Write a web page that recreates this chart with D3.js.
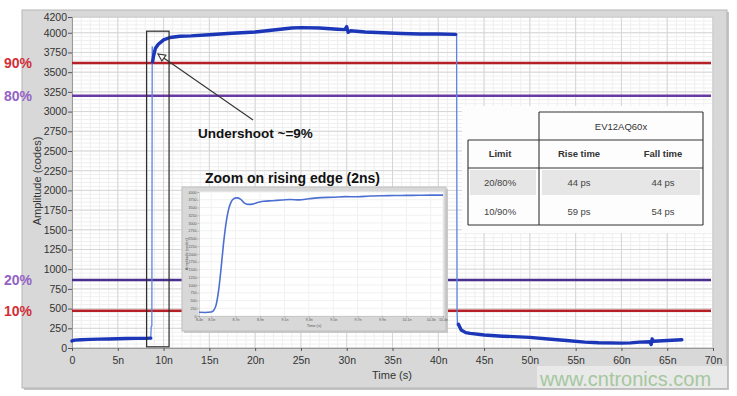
<!DOCTYPE html>
<html>
<head>
<meta charset="utf-8">
<script src="https://cdn.jsdelivr.net/npm/d3@7"></script>
<style>
  body { margin: 0; background: #fff; }
  svg { display: block; }
  text { font-family: "Liberation Sans", Arial, sans-serif; }
</style>
</head>
<body>
<svg id="chart" width="737" height="396"></svg>
<script>
// ---------- data ----------
// Main acquisition: time in ns, amplitude in ADC codes
const traceTime = [0, 0.3, 1, 2, 3, 4, 5, 6, 7, 8, 8.6, 8.65, 8.72, 8.76, 8.8, 8.9, 9.1, 9.4, 10, 10.7, 11.8, 13, 15, 17, 20, 22, 24, 25, 27, 29, 29.8, 30, 30.15, 30.4, 32, 34, 36, 38, 40, 41.9, 42.0, 42.05, 42.1, 42.2, 42.5, 43, 43.5, 45, 47, 50, 52, 54, 56, 57.5, 60, 61, 62, 63.1, 63.25, 63.35, 63.5, 65, 66.6];
const traceCode = [90, 100, 105, 110, 112, 115, 118, 120, 122, 122, 125, 270, 280, 3830, 3630, 3700, 3800, 3850, 3910, 3940, 3955, 3960, 3975, 3990, 4010, 4035, 4060, 4065, 4060, 4045, 4040, 4078, 4005, 4025, 4010, 4000, 3990, 3985, 3985, 3980, 3980, 480, 290, 300, 228, 195, 185, 165, 150, 135, 115, 95, 75, 67, 62, 65, 75, 80, 45, 115, 85, 95, 105];
// Fast transitions (only the thin trace is visible there)
const edgeSpans = [[8.62, 8.79], [41.95, 42.19]];

const timeTicks = [0, 5, 10, 15, 20, 25, 30, 35, 40, 45, 50, 55, 60, 65, 70];
const timeTickLabels = ["0", "5n", "10n", "15n", "20n", "25n", "30n", "35n", "40n", "45n", "50n", "55n", "60n", "65n", "70n"];
const ampTicks = [0, 250, 500, 750, 1000, 1250, 1500, 1750, 2000, 2250, 2500, 2750, 3000, 3250, 3500, 3750, 4000, 4200];

// Threshold levels (codes)
const thresholdLabels = ["90%", "80%", "20%", "10%"];
const thresholdValues = [3617, 3200, 863, 473];

// Zoomed window around the rising edge
const zoomWindowTime = [8.15, 10.6];
const zoomWindowCode = [15, 4020];
// Undershoot callout: tail and tip (ns, codes)
const calloutTail = [19.77, 2893];
const calloutTip = [9.39, 3731];

// Inset: rising edge over 2 ns
const insetTime = [8.40, 8.45, 8.50, 8.52, 8.54, 8.56, 8.58, 8.60, 8.62, 8.64, 8.66, 8.68, 8.71, 8.74, 8.77, 8.80, 8.84, 8.88, 8.93, 9.00, 9.08, 9.15, 9.22, 9.30, 9.40, 9.50, 9.60, 9.70, 9.80, 9.90, 10.0, 10.1, 10.2, 10.3, 10.4];
const insetCode = [120, 115, 130, 180, 350, 800, 1500, 2300, 2950, 3400, 3650, 3770, 3810, 3770, 3650, 3600, 3610, 3660, 3700, 3720, 3740, 3760, 3745, 3780, 3820, 3830, 3850, 3845, 3870, 3880, 3885, 3890, 3895, 3900, 3900];
const insetTimeTicks = [8.4, 8.5, 8.7, 8.9, 9.1, 9.3, 9.5, 9.7, 9.9, 10.1, 10.3, 10.4];
const insetAmpTicks = [0, 250, 500, 750, 1000, 1250, 1500, 1750, 2000, 2250, 2500, 2750, 3000, 3250, 3500, 3750, 4000];

// Rise / fall time table
const tableTitle = "EV12AQ60x";
const tableHeaders = ["Limit", "Rise time", "Fall time"];
const tableLimits = ["20/80%", "10/90%"];
const riseTimes = ["44 ps", "59 ps"];
const fallTimes = ["44 ps", "54 ps"];

// ---------- drawing ----------
const svg = d3.select("#chart");
const plot = { l: 72, r: 713, t: 17, b: 348 };
const x = d3.scaleLinear().domain([0, 70]).range([plot.l, plot.r]);
const y = d3.scaleLinear().domain([0, 4200]).range([plot.b, plot.t]);

// panel
svg.append("rect").attr("x", 24).attr("y", 12).attr("width", 705).attr("height", 378).attr("fill", "#c4c4c4");
svg.append("rect").attr("x", 22).attr("y", 10).attr("width", 705).attr("height", 378)
  .attr("fill", "#d8d8d8").attr("stroke", "#b5b5b5").attr("stroke-width", 1);
// site mark background strip
svg.append("rect").attr("x", 537).attr("y", 366).attr("width", 190).attr("height", 22).attr("fill", "#e9e9e9");
svg.append("rect").attr("x", plot.l).attr("y", plot.t).attr("width", plot.r - plot.l).attr("height", plot.b - plot.t)
  .attr("fill", "#ffffff");

// grid
const grid = svg.append("g");
grid.selectAll(".vx").data(d3.range(0, 70.001, 1)).join("line")
  .attr("x1", d => x(d)).attr("x2", d => x(d)).attr("y1", plot.t).attr("y2", plot.b)
  .attr("stroke", "#efefef").attr("stroke-width", 1);
grid.selectAll(".hy").data(d3.range(0, 4200.001, 50)).join("line")
  .attr("y1", d => y(d)).attr("y2", d => y(d)).attr("x1", plot.l).attr("x2", plot.r)
  .attr("stroke", "#efefef").attr("stroke-width", 1);
grid.append("g").selectAll("line").data(timeTicks).join("line")
  .attr("x1", d => x(d)).attr("x2", d => x(d)).attr("y1", plot.t).attr("y2", plot.b)
  .attr("stroke", "#d6d6d6").attr("stroke-width", 1);
grid.append("g").selectAll("line").data(ampTicks).join("line")
  .attr("y1", d => y(d)).attr("y2", d => y(d)).attr("x1", plot.l).attr("x2", plot.r)
  .attr("stroke", "#d6d6d6").attr("stroke-width", 1);
svg.append("rect").attr("x", plot.l).attr("y", plot.t).attr("width", plot.r - plot.l).attr("height", plot.b - plot.t)
  .attr("fill", "none").attr("stroke", "#c8c8c8");

// axes
const yAxis = svg.append("g").attr("transform", `translate(${plot.l},0)`)
  .call(d3.axisLeft(y).tickValues(ampTicks).tickSize(4).tickPadding(1).tickFormat(d3.format("d")));
const xAxis = svg.append("g").attr("transform", `translate(0,${plot.b})`)
  .call(d3.axisBottom(x).tickValues(timeTicks).tickSize(3).tickPadding(6).tickFormat((d, i) => timeTickLabels[i]));
[yAxis, xAxis].forEach(a => {
  a.select(".domain").attr("stroke", "#9a9a9a");
  a.selectAll(".tick line").attr("stroke", "#555");
  a.selectAll(".tick text").attr("fill", "#333").style("font-size", "10.5px");
});

svg.append("text").attr("transform", "translate(41,181) rotate(-90)").attr("text-anchor", "middle")
  .attr("fill", "#333").style("font-size", "11px").text("Amplitude (codes)");
svg.append("text").attr("x", 392).attr("y", 379).attr("text-anchor", "middle")
  .attr("fill", "#333").style("font-size", "11px").text("Time (s)");

// threshold lines
const thresholdLineColor = ["#b51f26", "#6a3aa4", "#4a2f8e", "#b51f26"];
const thresholdTextColor = ["#d32f38", "#9462c4", "#9462c4", "#d32f38"];
svg.append("g").selectAll("line").data(thresholdValues).join("line")
  .attr("x1", plot.l).attr("x2", plot.r - 2)
  .attr("y1", d => y(d)).attr("y2", d => y(d))
  .attr("stroke", (d, i) => thresholdLineColor[i]).attr("stroke-width", 2.6);
svg.append("g").selectAll("text").data(thresholdValues).join("text")
  .attr("x", 4).attr("y", d => y(d) + 5)
  .attr("fill", (d, i) => thresholdTextColor[i])
  .style("font-size", "14px").style("font-weight", "bold")
  .text((d, i) => thresholdLabels[i]);

// trace
const trace = traceTime.map((t, i) => [t, traceCode[i]]);
const onEdge = t => edgeSpans.some(s => t > s[0] && t < s[1]);
svg.append("path").datum(trace)
  .attr("d", d3.line().x(d => x(d[0])).y(d => y(d[1])))
  .attr("fill", "none").attr("stroke", "#5f82e2").attr("stroke-width", 1.3);
svg.append("path").datum(trace)
  .attr("d", d3.line().defined(d => !onEdge(d[0])).x(d => x(d[0])).y(d => y(d[1])))
  .attr("fill", "none").attr("stroke", "#1c36b8").attr("stroke-width", 3.4)
  .attr("stroke-linejoin", "round").attr("stroke-linecap", "round");

// zoom window rectangle
svg.append("rect")
  .attr("x", x(zoomWindowTime[0])).attr("y", y(zoomWindowCode[1]))
  .attr("width", x(zoomWindowTime[1]) - x(zoomWindowTime[0]))
  .attr("height", y(zoomWindowCode[0]) - y(zoomWindowCode[1]))
  .attr("fill", "none").attr("stroke", "#2a2a2a").attr("stroke-width", 1.2);

// undershoot callout
svg.append("defs").append("marker").attr("id", "tip")
  .attr("viewBox", "0 0 10 10").attr("refX", 9).attr("refY", 5)
  .attr("markerWidth", 9).attr("markerHeight", 9).attr("markerUnits", "userSpaceOnUse")
  .attr("orient", "auto")
  .append("path").attr("d", "M1,1 L9,5 L1,9 Z").attr("fill", "#fff").attr("stroke", "#333").attr("stroke-width", 1.2);
svg.append("line")
  .attr("x1", x(calloutTail[0])).attr("y1", y(calloutTail[1]))
  .attr("x2", x(calloutTip[0])).attr("y2", y(calloutTip[1]))
  .attr("stroke", "#333").attr("stroke-width", 1.1).attr("marker-end", "url(#tip)");
svg.append("text").attr("x", 198).attr("y", 138).attr("fill", "#111")
  .style("font-size", "13.5px").style("font-weight", "bold").text("Undershoot ~=9%");

// ---------- inset ----------
const ip = { l: 199, r: 443, t: 192, b: 316 };
const xi = d3.scaleLinear().domain([8.4, 10.4]).range([ip.l, ip.r]);
const yi = d3.scaleLinear().domain([0, 4000]).range([ip.b, ip.t]);
svg.append("rect").attr("x", 184).attr("y", 189).attr("width", 264).attr("height", 144).attr("fill", "#c9c9c9");
svg.append("rect").attr("x", 182).attr("y", 187).attr("width", 264).attr("height", 144)
  .attr("fill", "#d8d8d8").attr("stroke", "#c0c0c0");
svg.append("rect").attr("x", ip.l).attr("y", ip.t).attr("width", ip.r - ip.l).attr("height", ip.b - ip.t).attr("fill", "#fff");
svg.append("g").selectAll("line").data(insetTimeTicks).join("line")
  .attr("x1", d => xi(d)).attr("x2", d => xi(d)).attr("y1", ip.t).attr("y2", ip.b)
  .attr("stroke", "#f1f1f1");
svg.append("g").selectAll("line").data(insetAmpTicks).join("line")
  .attr("y1", d => yi(d)).attr("y2", d => yi(d)).attr("x1", ip.l).attr("x2", ip.r)
  .attr("stroke", "#f1f1f1");
const iya = svg.append("g").attr("transform", `translate(${ip.l},0)`)
  .call(d3.axisLeft(yi).tickValues(insetAmpTicks).tickSize(1.5).tickPadding(1).tickFormat(d3.format("d")));
const ixa = svg.append("g").attr("transform", `translate(0,${ip.b})`)
  .call(d3.axisBottom(xi).tickValues(insetTimeTicks).tickSize(1.5).tickPadding(1).tickFormat(d => d3.format(".1f")(d) + "n"));
[iya, ixa].forEach(a => {
  a.select(".domain").attr("stroke", "#aaa").attr("stroke-width", 0.5);
  a.selectAll(".tick line").attr("stroke", "#888").attr("stroke-width", 0.5);
  a.selectAll(".tick text").attr("fill", "#555").style("font-size", "3.6px");
});
svg.append("text").attr("transform", "translate(188,254) rotate(-90)").attr("text-anchor", "middle")
  .attr("fill", "#555").style("font-size", "4px").text("Amplitude (codes)");
svg.append("text").attr("x", 314).attr("y", 327).attr("text-anchor", "middle")
  .attr("fill", "#555").style("font-size", "4px").text("Time (s)");
svg.append("path").datum(insetTime.map((t, i) => [t, insetCode[i]]))
  .attr("d", d3.line().curve(d3.curveMonotoneX).x(d => xi(d[0])).y(d => yi(d[1])))
  .attr("fill", "none").attr("stroke", "#4c6fd2").attr("stroke-width", 1.6);
svg.append("text").attr("x", 205).attr("y", 183).attr("fill", "#111")
  .style("font-size", "14px").style("font-weight", "bold").text("Zoom on rising edge (2ns)");

// ---------- table ----------
const tb = svg.append("g").style("font-family", "Lato, 'Liberation Sans', sans-serif");
tb.append("rect").attr("x", 462).attr("y", 106).attr("width", 250).attr("height", 127).attr("fill", "#fdfdfd");
const colL = 468, colM = 539, colR = 703;
const rowY = [112, 140, 168, 197, 225];
tb.append("rect").attr("x", colL + 2).attr("y", rowY[2] + 2).attr("width", colM - colL - 5).attr("height", rowY[3] - rowY[2] - 4).attr("fill", "#e6e6e6");
tb.append("rect").attr("x", colM + 3).attr("y", rowY[2] + 2).attr("width", colR - colM - 6).attr("height", rowY[3] - rowY[2] - 4).attr("fill", "#e6e6e6");
const tline = (x1, y1, x2, y2) => tb.append("line").attr("x1", x1).attr("y1", y1).attr("x2", x2).attr("y2", y2)
  .attr("stroke", "#333").attr("stroke-width", 1.1);
tline(colM, rowY[0], colR, rowY[0]);
tline(colL, rowY[1], colR, rowY[1]);
tline(colL, rowY[2], colR, rowY[2]);
tline(colL, rowY[4], colR, rowY[4]);
tline(colL, rowY[1], colL, rowY[4]);
tline(colM, rowY[0], colM, rowY[4]);
tline(colR, rowY[0], colR, rowY[4]);
const colX = [500, 579, 663];
tb.append("text").attr("x", (colM + colR) / 2).attr("y", 130).attr("text-anchor", "middle")
  .attr("fill", "#333").style("font-size", "9.5px").text(tableTitle);
tb.selectAll(".hd").data(tableHeaders).join("text")
  .attr("x", (d, i) => colX[i]).attr("y", 157).attr("text-anchor", "middle")
  .attr("fill", "#333").style("font-size", "9.5px").style("font-weight", "bold").text(d => d);
tableLimits.forEach((lim, r) => {
  const ty = (rowY[r + 2] + rowY[r + 3]) / 2 + 3.5;
  [lim, riseTimes[r], fallTimes[r]].forEach((v, c) => {
    tb.append("text").attr("x", colX[c]).attr("y", ty).attr("text-anchor", "middle")
      .attr("fill", "#444").style("font-size", "9.5px").text(v);
  });
});

// ---------- site mark ----------
svg.append("text").attr("x", 540).attr("y", 386).attr("fill", "#a5c79e")
  .style("font-size", "20px").text("www.cntronics.com");
</script>
</body>
</html>
